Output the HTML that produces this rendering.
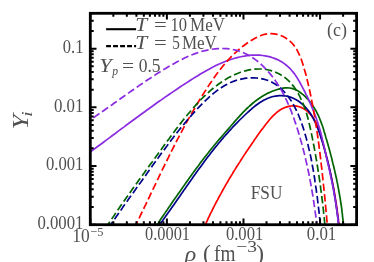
<!DOCTYPE html>
<html><head><meta charset="utf-8"><title>chart</title>
<style>
html,body{margin:0;padding:0;background:#fff;}
body{width:374px;height:262px;overflow:hidden;}
svg{display:block;}
text{font-family:"Liberation Serif",serif;fill:#505050;}
</style></head><body>
<svg width="374" height="262" viewBox="0 0 374 262">
<rect width="374" height="262" fill="#fff"/>
<defs><filter id="gs" x="0" y="0" width="374" height="262" filterUnits="userSpaceOnUse" color-interpolation-filters="sRGB"><feColorMatrix type="saturate" values="0"/></filter><clipPath id="c"><rect x="90.3" y="13.3" width="266.3" height="211.39999999999998"/></clipPath></defs>
<g clip-path="url(#c)" fill="none" stroke-width="1.7" stroke-linecap="butt" stroke-linejoin="round">
<path d="M203.8,228.0 L204.6,226.3 L205.3,224.6 L206.1,223.0 L206.9,221.3 L207.7,219.6 L208.4,217.9 L209.2,216.3 L210.0,214.6 L210.8,212.9 L211.7,211.3 L212.5,209.6 L213.3,208.0 L214.1,206.3 L215.0,204.7 L215.8,203.0 L216.7,201.4 L217.6,199.8 L218.4,198.1 L219.3,196.5 L220.2,194.9 L221.1,193.3 L222.0,191.6 L222.9,190.0 L223.8,188.4 L224.7,186.8 L225.6,185.2 L226.5,183.6 L227.5,182.0 L228.4,180.4 L229.3,178.8 L230.3,177.3 L231.2,175.7 L232.2,174.1 L233.1,172.5 L234.1,170.9 L235.1,169.4 L236.0,167.8 L237.0,166.2 L238.0,164.7 L239.0,163.1 L240.0,161.6 L241.0,160.0 L242.0,158.5 L243.0,156.9 L244.0,155.4 L245.0,153.9 L246.0,152.3 L247.1,150.8 L248.1,149.3 L249.1,147.7 L250.2,146.2 L251.2,144.7 L252.2,143.2 L253.3,141.7 L254.3,140.1 L255.4,138.6 L256.4,137.1 L257.5,135.6 L258.5,134.1 L259.6,132.6 L260.7,131.1 L261.8,129.6 L262.9,128.2 L264.0,126.7 L265.1,125.2 L266.3,123.7 L267.5,122.2 L268.7,120.7 L269.9,119.3 L271.2,117.8 L272.5,116.4 L273.8,115.1 L275.2,113.8 L276.6,112.5 L278.1,111.4 L279.6,110.3 L281.2,109.3 L282.8,108.4 L284.4,107.7 L286.1,107.1 L287.9,106.6 L289.6,106.2 L291.4,106.0 L293.1,105.9 L294.9,105.9 L296.6,106.1 L298.3,106.5 L300.0,107.0 L301.6,107.6 L303.2,108.4 L304.7,109.3 L306.2,110.4 L307.6,111.5 L309.0,112.8 L310.2,114.1 L311.4,115.5 L312.5,117.0 L313.6,118.5 L314.5,120.1 L315.4,121.7 L316.3,123.4 L317.0,125.1 L317.8,126.8 L318.4,128.5 L319.1,130.3 L319.7,132.1 L320.3,133.9 L320.8,135.7 L321.3,137.5 L321.9,139.4 L322.4,141.2 L322.9,143.0 L323.4,144.8 L323.9,146.6 L324.4,148.4 L324.8,150.2 L325.3,152.0 L325.8,153.8 L326.2,155.6 L326.7,157.4 L327.2,159.2 L327.6,161.0 L328.0,162.8 L328.5,164.6 L328.9,166.3 L329.3,168.1 L329.7,169.9 L330.1,171.7 L330.5,173.5 L330.9,175.3 L331.3,177.0 L331.7,178.8 L332.1,180.6 L332.5,182.4 L332.8,184.2 L333.2,186.0 L333.5,187.8 L333.9,189.6 L334.2,191.3 L334.5,193.1 L334.8,194.9 L335.1,196.7 L335.4,198.6 L335.7,200.4 L336.0,202.2 L336.3,204.0 L336.6,205.8 L336.8,207.6 L337.1,209.5 L337.3,211.3 L337.6,213.2 L337.8,215.0 L338.0,216.9 L338.3,218.7 L338.5,220.6 L338.7,222.5 L338.9,224.3 L339.0,226.2 L339.2,228.1" stroke="#ff0000"/>
<path d="M155.0,228.0 L156.2,226.1 L157.4,224.2 L158.7,222.4 L159.9,220.5 L161.2,218.6 L162.4,216.8 L163.7,214.9 L164.9,213.1 L166.2,211.2 L167.5,209.4 L168.7,207.5 L170.0,205.7 L171.3,203.8 L172.5,202.0 L173.8,200.1 L175.1,198.3 L176.4,196.4 L177.7,194.6 L179.0,192.7 L180.3,190.9 L181.6,189.1 L182.8,187.2 L184.1,185.4 L185.4,183.6 L186.7,181.7 L188.0,179.9 L189.3,178.1 L190.6,176.3 L191.9,174.4 L193.3,172.6 L194.6,170.8 L195.9,169.0 L197.2,167.2 L198.6,165.4 L199.9,163.6 L201.2,161.8 L202.6,160.0 L203.9,158.3 L205.3,156.5 L206.7,154.7 L208.1,153.0 L209.4,151.2 L210.8,149.5 L212.3,147.7 L213.7,146.0 L215.1,144.3 L216.6,142.5 L218.0,140.8 L219.5,139.1 L221.0,137.4 L222.4,135.7 L223.9,134.0 L225.4,132.3 L226.9,130.6 L228.4,128.9 L229.8,127.2 L231.3,125.5 L232.8,123.8 L234.2,122.1 L235.7,120.4 L237.2,118.7 L238.7,117.1 L240.2,115.4 L241.7,113.8 L243.2,112.2 L244.8,110.6 L246.3,109.0 L248.0,107.5 L249.6,106.0 L251.3,104.5 L253.0,103.0 L254.7,101.6 L256.5,100.3 L258.3,99.0 L260.1,97.7 L262.0,96.5 L264.0,95.3 L266.0,94.2 L268.0,93.1 L270.1,92.2 L272.2,91.3 L274.4,90.5 L276.5,89.7 L278.7,89.1 L280.9,88.6 L283.1,88.2 L285.3,87.9 L287.5,87.8 L289.6,88.0 L291.7,88.4 L293.7,89.0 L295.7,89.8 L297.7,90.8 L299.5,92.0 L301.3,93.3 L303.1,94.7 L304.8,96.2 L306.4,97.9 L308.0,99.5 L309.5,101.3 L310.9,103.1 L312.2,104.9 L313.5,106.8 L314.7,108.7 L315.9,110.7 L316.9,112.7 L317.9,114.7 L318.9,116.7 L319.7,118.8 L320.5,120.8 L321.3,122.9 L322.1,125.0 L322.8,127.1 L323.5,129.3 L324.1,131.4 L324.8,133.6 L325.4,135.7 L326.0,137.9 L326.7,140.0 L327.3,142.2 L327.9,144.3 L328.5,146.5 L329.1,148.6 L329.7,150.8 L330.3,153.0 L330.8,155.1 L331.4,157.3 L332.0,159.5 L332.5,161.7 L333.0,163.9 L333.6,166.0 L334.1,168.2 L334.6,170.4 L335.1,172.6 L335.6,174.8 L336.1,177.0 L336.6,179.2 L337.0,181.4 L337.5,183.6 L337.9,185.8 L338.3,188.0 L338.7,190.2 L339.1,192.4 L339.5,194.6 L339.9,196.8 L340.3,199.1 L340.6,201.3 L340.9,203.5 L341.3,205.7 L341.6,207.9 L341.9,210.2 L342.1,212.4 L342.4,214.6 L342.6,216.8 L342.9,219.1 L343.1,221.3 L343.3,223.5 L343.5,225.8 L343.6,228.0" stroke="#006400"/>
<path d="M157.2,228.0 L158.5,226.2 L159.7,224.5 L161.0,222.7 L162.3,221.0 L163.5,219.3 L164.8,217.5 L166.0,215.8 L167.3,214.0 L168.5,212.3 L169.8,210.5 L171.0,208.7 L172.2,207.0 L173.5,205.2 L174.7,203.5 L175.9,201.7 L177.1,200.0 L178.4,198.2 L179.6,196.5 L180.8,194.7 L182.0,192.9 L183.2,191.2 L184.4,189.4 L185.7,187.7 L186.9,185.9 L188.1,184.2 L189.3,182.5 L190.6,180.7 L191.8,179.0 L193.0,177.2 L194.2,175.5 L195.5,173.8 L196.7,172.0 L198.0,170.3 L199.2,168.6 L200.5,166.9 L201.7,165.2 L203.0,163.4 L204.2,161.7 L205.5,160.0 L206.8,158.3 L208.1,156.6 L209.4,155.0 L210.7,153.3 L212.0,151.6 L213.3,149.9 L214.6,148.3 L215.9,146.6 L217.3,145.0 L218.6,143.3 L220.0,141.7 L221.4,140.0 L222.8,138.4 L224.1,136.8 L225.5,135.2 L227.0,133.6 L228.4,132.0 L229.8,130.4 L231.3,128.8 L232.7,127.2 L234.2,125.7 L235.7,124.1 L237.2,122.6 L238.7,121.0 L240.2,119.5 L241.8,118.0 L243.3,116.5 L244.9,115.0 L246.5,113.5 L248.1,112.0 L249.7,110.6 L251.4,109.1 L253.0,107.7 L254.7,106.3 L256.4,105.0 L258.2,103.7 L259.9,102.5 L261.7,101.4 L263.6,100.3 L265.4,99.4 L267.3,98.5 L269.3,97.7 L271.2,97.0 L273.2,96.5 L275.3,96.1 L277.4,95.8 L279.5,95.6 L281.7,95.6 L283.8,95.8 L286.0,96.0 L288.1,96.5 L290.2,97.1 L292.2,97.8 L294.2,98.7 L296.1,99.7 L297.9,100.8 L299.7,102.0 L301.3,103.3 L302.9,104.7 L304.4,106.1 L305.8,107.6 L307.2,109.2 L308.5,110.8 L309.7,112.5 L310.9,114.3 L312.0,116.1 L313.0,117.9 L314.0,119.8 L314.9,121.7 L315.8,123.7 L316.7,125.7 L317.5,127.7 L318.3,129.8 L319.1,131.8 L319.8,133.9 L320.5,136.0 L321.1,138.1 L321.8,140.1 L322.5,142.2 L323.1,144.3 L323.7,146.4 L324.3,148.5 L324.9,150.5 L325.4,152.6 L326.0,154.7 L326.5,156.7 L327.1,158.8 L327.6,160.9 L328.1,162.9 L328.6,165.0 L329.1,167.1 L329.6,169.1 L330.0,171.2 L330.5,173.2 L330.9,175.3 L331.3,177.4 L331.7,179.4 L332.1,181.5 L332.5,183.6 L332.9,185.7 L333.3,187.7 L333.7,189.8 L334.0,191.9 L334.4,194.0 L334.7,196.1 L335.1,198.2 L335.4,200.3 L335.7,202.4 L336.0,204.5 L336.3,206.6 L336.6,208.7 L336.9,210.8 L337.2,213.0 L337.5,215.1 L337.8,217.3 L338.1,219.4 L338.3,221.6 L338.6,223.7 L338.9,225.9 L339.1,228.1" stroke="#00008b"/>
<path d="M84.8,155.9 L86.9,154.4 L89.0,152.9 L91.1,151.3 L93.2,149.8 L95.3,148.3 L97.3,146.8 L99.4,145.2 L101.5,143.7 L103.5,142.2 L105.6,140.6 L107.6,139.1 L109.7,137.6 L111.8,136.0 L113.8,134.5 L115.9,133.0 L117.9,131.4 L120.0,129.9 L122.0,128.4 L124.1,126.9 L126.1,125.3 L128.2,123.8 L130.2,122.3 L132.3,120.8 L134.4,119.3 L136.4,117.8 L138.5,116.3 L140.5,114.8 L142.6,113.2 L144.7,111.7 L146.7,110.2 L148.8,108.8 L150.9,107.3 L153.0,105.8 L155.0,104.3 L157.1,102.8 L159.2,101.3 L161.3,99.9 L163.4,98.4 L165.5,96.9 L167.6,95.5 L169.7,94.0 L171.8,92.6 L174.0,91.1 L176.1,89.7 L178.2,88.3 L180.4,86.8 L182.5,85.4 L184.7,84.0 L186.8,82.6 L189.0,81.2 L191.2,79.8 L193.4,78.4 L195.6,77.0 L197.8,75.7 L200.0,74.3 L202.2,73.0 L204.5,71.7 L206.7,70.4 L209.0,69.2 L211.2,67.9 L213.5,66.8 L215.8,65.6 L218.1,64.5 L220.4,63.5 L222.8,62.5 L225.1,61.5 L227.5,60.6 L229.9,59.8 L232.3,59.0 L234.7,58.3 L237.2,57.6 L239.6,57.0 L242.1,56.5 L244.6,56.1 L247.1,55.7 L249.7,55.4 L252.2,55.2 L254.8,55.1 L257.4,55.1 L260.0,55.2 L262.6,55.5 L265.1,55.8 L267.7,56.3 L270.2,56.9 L272.6,57.7 L275.1,58.6 L277.4,59.6 L279.7,60.8 L281.9,62.0 L284.0,63.4 L286.0,65.0 L288.0,66.6 L289.8,68.3 L291.5,70.2 L293.1,72.1 L294.7,74.1 L296.1,76.2 L297.5,78.4 L298.8,80.6 L300.1,82.8 L301.3,85.1 L302.5,87.4 L303.7,89.7 L304.9,92.0 L306.0,94.3 L307.2,96.6 L308.3,98.9 L309.3,101.3 L310.4,103.6 L311.4,106.0 L312.4,108.3 L313.4,110.7 L314.3,113.1 L315.2,115.5 L316.1,117.9 L316.9,120.3 L317.8,122.7 L318.5,125.1 L319.3,127.6 L320.0,130.0 L320.7,132.5 L321.3,135.0 L321.9,137.4 L322.5,139.9 L323.1,142.4 L323.7,144.9 L324.3,147.4 L324.8,149.9 L325.4,152.4 L326.0,154.9 L326.5,157.4 L327.1,159.9 L327.6,162.4 L328.2,164.9 L328.8,167.4 L329.3,169.9 L329.9,172.4 L330.4,174.9 L330.9,177.4 L331.5,179.9 L332.0,182.4 L332.5,184.9 L333.0,187.4 L333.5,189.9 L333.9,192.5 L334.4,195.0 L334.8,197.5 L335.3,200.0 L335.7,202.6 L336.1,205.1 L336.5,207.6 L336.8,210.2 L337.2,212.7 L337.5,215.2 L337.8,217.8 L338.1,220.3 L338.3,222.9 L338.6,225.4 L338.8,228.0" stroke="#8a2be2"/>
<path d="M134.3,227.9 L135.6,225.3 L136.9,222.8 L138.1,220.2 L139.4,217.6 L140.6,215.0 L141.9,212.4 L143.2,209.8 L144.4,207.2 L145.7,204.6 L146.9,202.0 L148.1,199.4 L149.4,196.8 L150.6,194.2 L151.9,191.6 L153.1,189.0 L154.4,186.4 L155.6,183.8 L156.8,181.2 L158.1,178.6 L159.3,176.0 L160.6,173.4 L161.8,170.8 L163.1,168.2 L164.4,165.6 L165.6,163.0 L166.9,160.5 L168.2,157.9 L169.4,155.3 L170.7,152.7 L172.0,150.2 L173.3,147.6 L174.6,145.0 L175.9,142.5 L177.2,139.9 L178.6,137.4 L179.9,134.8 L181.2,132.3 L182.6,129.8 L184.0,127.2 L185.3,124.7 L186.7,122.2 L188.1,119.7 L189.5,117.2 L190.9,114.6 L192.4,112.1 L193.8,109.7 L195.3,107.2 L196.7,104.7 L198.2,102.2 L199.7,99.8 L201.2,97.3 L202.8,94.8 L204.3,92.4 L205.9,90.0 L207.4,87.5 L209.0,85.1 L210.6,82.7 L212.3,80.3 L213.9,77.9 L215.6,75.6 L217.3,73.3 L219.1,71.0 L220.8,68.7 L222.6,66.4 L224.5,64.2 L226.4,62.0 L228.3,59.9 L230.2,57.8 L232.2,55.7 L234.3,53.7 L236.4,51.8 L238.5,49.9 L240.7,48.0 L243.0,46.2 L245.3,44.5 L247.6,42.8 L250.0,41.2 L252.5,39.7 L255.0,38.2 L257.6,36.9 L260.3,35.8 L263.0,34.8 L265.7,34.1 L268.5,33.7 L271.3,33.6 L274.2,33.8 L277.1,34.3 L279.9,35.2 L282.7,36.3 L285.3,37.7 L287.7,39.3 L289.9,41.1 L291.9,43.0 L293.7,45.1 L295.4,47.4 L296.9,49.8 L298.2,52.3 L299.4,54.9 L300.6,57.5 L301.6,60.3 L302.5,63.0 L303.4,65.9 L304.2,68.7 L305.0,71.5 L305.8,74.3 L306.5,77.1 L307.2,80.0 L307.9,82.8 L308.5,85.6 L309.2,88.4 L309.8,91.2 L310.4,94.0 L311.0,96.8 L311.5,99.6 L312.1,102.4 L312.6,105.2 L313.1,108.0 L313.6,110.8 L314.1,113.6 L314.6,116.4 L315.1,119.2 L315.5,122.1 L316.0,124.9 L316.4,127.7 L316.8,130.6 L317.3,133.4 L317.7,136.3 L318.1,139.1 L318.5,142.0 L318.9,144.8 L319.2,147.7 L319.6,150.6 L320.0,153.4 L320.3,156.3 L320.7,159.2 L321.0,162.0 L321.3,164.9 L321.7,167.8 L322.0,170.6 L322.3,173.5 L322.6,176.4 L322.9,179.3 L323.2,182.1 L323.5,185.0 L323.8,187.9 L324.1,190.8 L324.4,193.6 L324.7,196.5 L325.0,199.4 L325.2,202.2 L325.5,205.1 L325.8,208.0 L326.0,210.8 L326.3,213.7 L326.6,216.5 L326.8,219.4 L327.1,222.2 L327.4,225.1 L327.6,227.9" stroke="#ff0000" stroke-dasharray="7.4 3.2"/>
<path d="M105.8,227.9 L107.3,225.7 L108.7,223.5 L110.1,221.4 L111.6,219.2 L113.0,217.1 L114.5,214.9 L115.9,212.7 L117.4,210.6 L118.9,208.5 L120.3,206.3 L121.8,204.2 L123.3,202.0 L124.8,199.9 L126.3,197.8 L127.8,195.7 L129.3,193.5 L130.8,191.4 L132.3,189.3 L133.8,187.2 L135.4,185.1 L136.9,182.9 L138.4,180.8 L139.9,178.7 L141.5,176.6 L143.0,174.5 L144.5,172.4 L146.0,170.3 L147.6,168.2 L149.1,166.1 L150.6,164.0 L152.2,161.9 L153.7,159.8 L155.2,157.7 L156.8,155.5 L158.3,153.4 L159.8,151.3 L161.4,149.2 L162.9,147.1 L164.4,145.0 L166.0,142.9 L167.5,140.8 L169.1,138.7 L170.6,136.6 L172.1,134.5 L173.7,132.4 L175.3,130.3 L176.8,128.3 L178.4,126.2 L180.0,124.1 L181.6,122.1 L183.2,120.0 L184.8,118.0 L186.4,116.0 L188.1,114.0 L189.8,112.0 L191.4,110.0 L193.1,108.0 L194.9,106.1 L196.6,104.1 L198.4,102.2 L200.2,100.3 L202.0,98.5 L203.8,96.7 L205.7,94.9 L207.6,93.1 L209.5,91.4 L211.5,89.7 L213.5,88.0 L215.6,86.4 L217.7,84.8 L219.8,83.2 L222.0,81.7 L224.2,80.3 L226.4,78.9 L228.7,77.6 L231.0,76.4 L233.3,75.2 L235.7,74.2 L238.1,73.2 L240.5,72.3 L243.0,71.5 L245.4,70.8 L248.0,70.2 L250.5,69.7 L253.1,69.3 L255.6,69.1 L258.2,69.0 L260.8,69.0 L263.4,69.2 L266.0,69.5 L268.5,70.0 L271.1,70.6 L273.5,71.4 L276.0,72.4 L278.4,73.5 L280.7,74.8 L282.9,76.2 L285.1,77.7 L287.1,79.3 L289.0,81.1 L290.8,82.9 L292.4,84.9 L294.0,86.9 L295.5,89.0 L296.8,91.2 L298.1,93.4 L299.4,95.7 L300.5,98.0 L301.6,100.4 L302.7,102.8 L303.7,105.2 L304.6,107.7 L305.5,110.1 L306.3,112.6 L307.0,115.1 L307.7,117.6 L308.4,120.1 L309.0,122.7 L309.6,125.2 L310.2,127.7 L310.7,130.3 L311.2,132.8 L311.8,135.3 L312.3,137.9 L312.8,140.4 L313.3,143.0 L313.8,145.5 L314.3,148.1 L314.8,150.7 L315.2,153.2 L315.7,155.8 L316.1,158.3 L316.6,160.9 L317.0,163.5 L317.4,166.0 L317.8,168.6 L318.2,171.2 L318.6,173.8 L319.0,176.3 L319.4,178.9 L319.8,181.5 L320.1,184.1 L320.5,186.7 L320.8,189.2 L321.2,191.8 L321.5,194.4 L321.8,197.0 L322.2,199.6 L322.5,202.1 L322.8,204.7 L323.1,207.3 L323.4,209.9 L323.6,212.5 L323.9,215.1 L324.2,217.6 L324.4,220.2 L324.7,222.8 L324.9,225.4 L325.2,228.0" stroke="#006400" stroke-dasharray="7.4 3.2"/>
<path d="M108.6,227.9 L110.0,225.9 L111.4,223.8 L112.7,221.8 L114.1,219.8 L115.5,217.8 L116.9,215.7 L118.3,213.7 L119.7,211.7 L121.2,209.7 L122.6,207.6 L124.0,205.6 L125.4,203.6 L126.9,201.6 L128.3,199.5 L129.7,197.5 L131.2,195.5 L132.6,193.5 L134.1,191.5 L135.5,189.5 L136.9,187.4 L138.4,185.4 L139.8,183.4 L141.3,181.4 L142.7,179.4 L144.2,177.4 L145.6,175.4 L147.1,173.3 L148.5,171.3 L149.9,169.3 L151.4,167.3 L152.8,165.3 L154.2,163.3 L155.7,161.3 L157.1,159.3 L158.6,157.3 L160.0,155.3 L161.4,153.3 L162.9,151.3 L164.4,149.4 L165.8,147.4 L167.3,145.4 L168.7,143.4 L170.2,141.5 L171.7,139.5 L173.2,137.6 L174.7,135.6 L176.2,133.7 L177.7,131.7 L179.3,129.8 L180.8,127.9 L182.4,126.0 L184.0,124.1 L185.5,122.2 L187.1,120.3 L188.7,118.4 L190.4,116.6 L192.0,114.7 L193.7,112.9 L195.3,111.0 L197.0,109.2 L198.7,107.4 L200.4,105.6 L202.2,103.8 L204.0,102.1 L205.7,100.3 L207.6,98.6 L209.4,96.9 L211.3,95.3 L213.2,93.7 L215.1,92.1 L217.0,90.6 L219.0,89.2 L221.1,87.8 L223.1,86.5 L225.2,85.3 L227.4,84.1 L229.6,83.0 L231.8,82.0 L234.1,81.1 L236.4,80.3 L238.8,79.6 L241.2,79.1 L243.6,78.6 L246.1,78.2 L248.6,78.0 L251.1,77.8 L253.6,77.8 L256.1,78.0 L258.6,78.2 L261.0,78.6 L263.5,79.1 L265.8,79.7 L268.1,80.5 L270.4,81.5 L272.5,82.5 L274.6,83.7 L276.7,85.1 L278.6,86.5 L280.5,88.1 L282.3,89.8 L284.0,91.5 L285.6,93.4 L287.2,95.3 L288.7,97.3 L290.1,99.3 L291.5,101.3 L292.8,103.5 L294.0,105.6 L295.1,107.8 L296.2,110.0 L297.3,112.2 L298.3,114.5 L299.2,116.8 L300.1,119.1 L301.0,121.4 L301.8,123.7 L302.6,126.1 L303.4,128.4 L304.1,130.8 L304.8,133.2 L305.5,135.6 L306.2,137.9 L306.8,140.3 L307.5,142.7 L308.1,145.1 L308.6,147.5 L309.2,149.9 L309.7,152.3 L310.3,154.7 L310.8,157.1 L311.3,159.5 L311.7,162.0 L312.2,164.4 L312.6,166.8 L313.1,169.2 L313.5,171.7 L313.9,174.1 L314.3,176.5 L314.7,179.0 L315.0,181.4 L315.4,183.9 L315.7,186.3 L316.1,188.7 L316.4,191.2 L316.7,193.6 L317.1,196.1 L317.4,198.5 L317.7,201.0 L318.0,203.4 L318.3,205.9 L318.6,208.4 L318.9,210.8 L319.2,213.3 L319.5,215.7 L319.7,218.2 L320.0,220.6 L320.3,223.1 L320.6,225.5 L320.9,228.0" stroke="#00008b" stroke-dasharray="7.4 3.2"/>
<path d="M84.5,123.6 L86.5,122.3 L88.5,121.0 L90.5,119.6 L92.5,118.3 L94.5,117.0 L96.4,115.6 L98.4,114.2 L100.4,112.9 L102.3,111.5 L104.3,110.2 L106.2,108.8 L108.2,107.4 L110.1,106.1 L112.1,104.7 L114.0,103.3 L115.9,102.0 L117.9,100.6 L119.8,99.2 L121.7,97.8 L123.6,96.5 L125.6,95.1 L127.5,93.8 L129.4,92.4 L131.4,91.0 L133.3,89.7 L135.3,88.3 L137.2,87.0 L139.1,85.6 L141.1,84.3 L143.1,83.0 L145.0,81.6 L147.0,80.3 L149.0,79.0 L151.0,77.7 L152.9,76.4 L154.9,75.1 L156.9,73.8 L159.0,72.6 L161.0,71.3 L163.0,70.0 L165.1,68.8 L167.1,67.5 L169.2,66.3 L171.3,65.1 L173.4,63.9 L175.5,62.7 L177.6,61.6 L179.7,60.5 L181.9,59.4 L184.0,58.3 L186.2,57.3 L188.4,56.3 L190.6,55.4 L192.8,54.5 L195.0,53.6 L197.2,52.9 L199.5,52.1 L201.7,51.4 L204.0,50.8 L206.3,50.3 L208.6,49.8 L210.9,49.4 L213.2,49.0 L215.5,48.8 L217.9,48.6 L220.2,48.5 L222.6,48.5 L225.0,48.6 L227.4,48.7 L229.7,49.0 L232.1,49.4 L234.4,49.8 L236.7,50.4 L239.0,51.0 L241.2,51.8 L243.4,52.7 L245.6,53.7 L247.7,54.7 L249.8,55.9 L251.8,57.1 L253.8,58.5 L255.7,59.9 L257.6,61.3 L259.4,62.9 L261.2,64.4 L263.0,66.1 L264.7,67.8 L266.3,69.5 L267.9,71.3 L269.5,73.1 L271.0,74.9 L272.5,76.8 L273.9,78.7 L275.3,80.6 L276.6,82.6 L277.9,84.5 L279.2,86.5 L280.4,88.6 L281.6,90.6 L282.7,92.7 L283.8,94.8 L284.9,96.9 L285.9,99.0 L287.0,101.2 L287.9,103.4 L288.9,105.5 L289.8,107.7 L290.7,109.9 L291.6,112.2 L292.4,114.4 L293.3,116.6 L294.1,118.9 L294.8,121.1 L295.6,123.4 L296.4,125.7 L297.1,127.9 L297.8,130.2 L298.5,132.5 L299.2,134.8 L299.9,137.1 L300.5,139.4 L301.2,141.7 L301.8,143.9 L302.4,146.2 L303.0,148.5 L303.6,150.8 L304.2,153.1 L304.8,155.4 L305.3,157.7 L305.8,160.1 L306.4,162.4 L306.9,164.7 L307.4,167.0 L307.9,169.3 L308.4,171.6 L308.9,174.0 L309.3,176.3 L309.8,178.6 L310.2,180.9 L310.7,183.3 L311.1,185.6 L311.5,187.9 L311.9,190.3 L312.3,192.6 L312.7,195.0 L313.1,197.3 L313.4,199.7 L313.8,202.0 L314.1,204.4 L314.5,206.7 L314.8,209.1 L315.1,211.4 L315.5,213.8 L315.8,216.2 L316.1,218.5 L316.4,220.9 L316.7,223.3 L317.0,225.7 L317.2,228.0" stroke="#8a2be2" stroke-dasharray="7.4 3.2"/>
</g>
<path d="M90.30,224.7 v-6.2 M90.30,13.3 v6.2 M113.35,224.7 v-3.4 M113.35,13.3 v3.4 M126.84,224.7 v-3.4 M126.84,13.3 v3.4 M136.41,224.7 v-3.4 M136.41,13.3 v3.4 M143.83,224.7 v-3.4 M143.83,13.3 v3.4 M149.90,224.7 v-3.4 M149.90,13.3 v3.4 M155.02,224.7 v-3.4 M155.02,13.3 v3.4 M159.46,224.7 v-3.4 M159.46,13.3 v3.4 M163.38,224.7 v-3.4 M163.38,13.3 v3.4 M166.89,224.7 v-6.2 M166.89,13.3 v6.2 M189.94,224.7 v-3.4 M189.94,13.3 v3.4 M203.43,224.7 v-3.4 M203.43,13.3 v3.4 M213.00,224.7 v-3.4 M213.00,13.3 v3.4 M220.42,224.7 v-3.4 M220.42,13.3 v3.4 M226.48,224.7 v-3.4 M226.48,13.3 v3.4 M231.61,224.7 v-3.4 M231.61,13.3 v3.4 M236.05,224.7 v-3.4 M236.05,13.3 v3.4 M239.97,224.7 v-3.4 M239.97,13.3 v3.4 M243.47,224.7 v-6.2 M243.47,13.3 v6.2 M266.53,224.7 v-3.4 M266.53,13.3 v3.4 M280.01,224.7 v-3.4 M280.01,13.3 v3.4 M289.58,224.7 v-3.4 M289.58,13.3 v3.4 M297.00,224.7 v-3.4 M297.00,13.3 v3.4 M303.07,224.7 v-3.4 M303.07,13.3 v3.4 M308.20,224.7 v-3.4 M308.20,13.3 v3.4 M312.64,224.7 v-3.4 M312.64,13.3 v3.4 M316.55,224.7 v-3.4 M316.55,13.3 v3.4 M320.06,224.7 v-6.2 M320.06,13.3 v6.2 M343.11,224.7 v-3.4 M343.11,13.3 v3.4 M356.60,224.7 v-3.4 M356.60,13.3 v3.4 M90.3,224.70 h6.2 M356.6,224.70 h-6.2 M90.3,207.03 h3.4 M356.6,207.03 h-3.4 M90.3,196.70 h3.4 M356.6,196.70 h-3.4 M90.3,189.37 h3.4 M356.6,189.37 h-3.4 M90.3,183.68 h3.4 M356.6,183.68 h-3.4 M90.3,179.03 h3.4 M356.6,179.03 h-3.4 M90.3,175.10 h3.4 M356.6,175.10 h-3.4 M90.3,171.70 h3.4 M356.6,171.70 h-3.4 M90.3,168.70 h3.4 M356.6,168.70 h-3.4 M90.3,166.01 h6.2 M356.6,166.01 h-6.2 M90.3,148.34 h3.4 M356.6,148.34 h-3.4 M90.3,138.01 h3.4 M356.6,138.01 h-3.4 M90.3,130.68 h3.4 M356.6,130.68 h-3.4 M90.3,124.99 h3.4 M356.6,124.99 h-3.4 M90.3,120.34 h3.4 M356.6,120.34 h-3.4 M90.3,116.41 h3.4 M356.6,116.41 h-3.4 M90.3,113.01 h3.4 M356.6,113.01 h-3.4 M90.3,110.01 h3.4 M356.6,110.01 h-3.4 M90.3,107.32 h6.2 M356.6,107.32 h-6.2 M90.3,89.66 h3.4 M356.6,89.66 h-3.4 M90.3,79.32 h3.4 M356.6,79.32 h-3.4 M90.3,71.99 h3.4 M356.6,71.99 h-3.4 M90.3,66.30 h3.4 M356.6,66.30 h-3.4 M90.3,61.65 h3.4 M356.6,61.65 h-3.4 M90.3,57.73 h3.4 M356.6,57.73 h-3.4 M90.3,54.32 h3.4 M356.6,54.32 h-3.4 M90.3,51.32 h3.4 M356.6,51.32 h-3.4 M90.3,48.63 h6.2 M356.6,48.63 h-6.2 M90.3,30.97 h3.4 M356.6,30.97 h-3.4 M90.3,20.63 h3.4 M356.6,20.63 h-3.4 M90.3,13.30 h3.4 M356.6,13.30 h-3.4" stroke="#000" stroke-width="2.0" fill="none"/>
<rect x="90.3" y="13.3" width="266.3" height="211.4" fill="none" stroke="#000" stroke-width="2.8"/>
<path d="M106.1,29.2 H136.1" stroke="#000" stroke-width="2.1" fill="none"/>
<path d="M106.1,46.1 H136.1" stroke="#000" stroke-width="2.1" stroke-dasharray="4.9 2.1" fill="none"/>
<g filter="url(#gs)">
<text x="83.4" y="53.0" font-size="18.0" text-anchor="end"  textLength="20.6" lengthAdjust="spacingAndGlyphs">0.1</text>
<text x="83.4" y="111.7" font-size="18.0" text-anchor="end"  textLength="29.5" lengthAdjust="spacingAndGlyphs">0.01</text>
<text x="83.4" y="170.4" font-size="18.0" text-anchor="end"  textLength="37.5" lengthAdjust="spacingAndGlyphs">0.001</text>
<text x="83.4" y="229.1" font-size="18.0" text-anchor="end"  textLength="46.0" lengthAdjust="spacingAndGlyphs">0.0001</text>
<text x="167.5" y="240.3" font-size="18.0" text-anchor="middle"  textLength="45.0" lengthAdjust="spacingAndGlyphs">0.0001</text>
<text x="244.6" y="240.3" font-size="18.0" text-anchor="middle"  textLength="37.4" lengthAdjust="spacingAndGlyphs">0.001</text>
<text x="321.5" y="240.3" font-size="18.0" text-anchor="middle"  textLength="29.5" lengthAdjust="spacingAndGlyphs">0.01</text>
<text x="72.3" y="241.9" font-size="18.0" text-anchor="start"  textLength="17.4" lengthAdjust="spacingAndGlyphs">10</text>
<text x="90.2" y="235.7" font-size="13.24" text-anchor="start"  textLength="13.2" lengthAdjust="spacingAndGlyphs">−5</text>
<text x="135.2" y="31.4" font-size="18.0" text-anchor="start" font-style="italic" textLength="12" lengthAdjust="spacingAndGlyphs">T</text>
<text x="153.9" y="31.4" font-size="18.0" text-anchor="start"  textLength="12.8" lengthAdjust="spacingAndGlyphs">=</text>
<text x="170.5" y="31.4" font-size="18.0" text-anchor="start"  textLength="16.5" lengthAdjust="spacingAndGlyphs">10</text>
<text x="190.0" y="31.4" font-size="18.0" text-anchor="start"  textLength="35" lengthAdjust="spacingAndGlyphs">MeV</text>
<text x="135.2" y="48.8" font-size="18.0" text-anchor="start" font-style="italic" textLength="12" lengthAdjust="spacingAndGlyphs">T</text>
<text x="153.9" y="48.8" font-size="18.0" text-anchor="start"  textLength="12.8" lengthAdjust="spacingAndGlyphs">=</text>
<text x="172.3" y="48.8" font-size="18.0" text-anchor="start"  textLength="7.6" lengthAdjust="spacingAndGlyphs">5</text>
<text x="181.9" y="48.8" font-size="18.0" text-anchor="start"  textLength="35" lengthAdjust="spacingAndGlyphs">MeV</text>
<text x="99.3" y="72" font-size="18.0" text-anchor="start" font-style="italic" textLength="12.5" lengthAdjust="spacingAndGlyphs">Y</text>
<text x="112.3" y="74.9" font-size="11.65" text-anchor="start" font-style="italic" >p</text>
<text x="122.0" y="72" font-size="18.0" text-anchor="start"  textLength="12.1" lengthAdjust="spacingAndGlyphs">=</text>
<text x="138.7" y="72.2" font-size="18.0" text-anchor="start"  textLength="21.9" lengthAdjust="spacingAndGlyphs">0.5</text>
<text x="327.0" y="36" font-size="18.0" text-anchor="start"  textLength="20" lengthAdjust="spacingAndGlyphs">(c)</text>
<text x="250.8" y="198.9" font-size="18.0" text-anchor="start"  textLength="31.6" lengthAdjust="spacingAndGlyphs">FSU</text>
<g transform="translate(28.1,129.6) rotate(-90)"><text x="0" y="0" font-size="22.5" font-style="italic" textLength="15" lengthAdjust="spacingAndGlyphs">Y</text><text x="12.6" y="4" font-size="15" font-style="italic" textLength="5.8" lengthAdjust="spacingAndGlyphs">i</text></g>
<text x="184.7" y="261" font-size="21.18" text-anchor="start" font-style="italic" textLength="11.5" lengthAdjust="spacingAndGlyphs">ρ</text>
<text x="203.1" y="261" font-size="23.29" text-anchor="start"  >(</text>
<text x="214.1" y="261" font-size="23.82" text-anchor="start"  textLength="21.4" lengthAdjust="spacingAndGlyphs">fm</text>
<text x="236.2" y="251.9" font-size="15.88" text-anchor="start"  textLength="20.8" lengthAdjust="spacingAndGlyphs">−3</text>
<text x="256.2" y="261" font-size="23.29" text-anchor="start"  >)</text>
</g>
</svg>
</body></html>
